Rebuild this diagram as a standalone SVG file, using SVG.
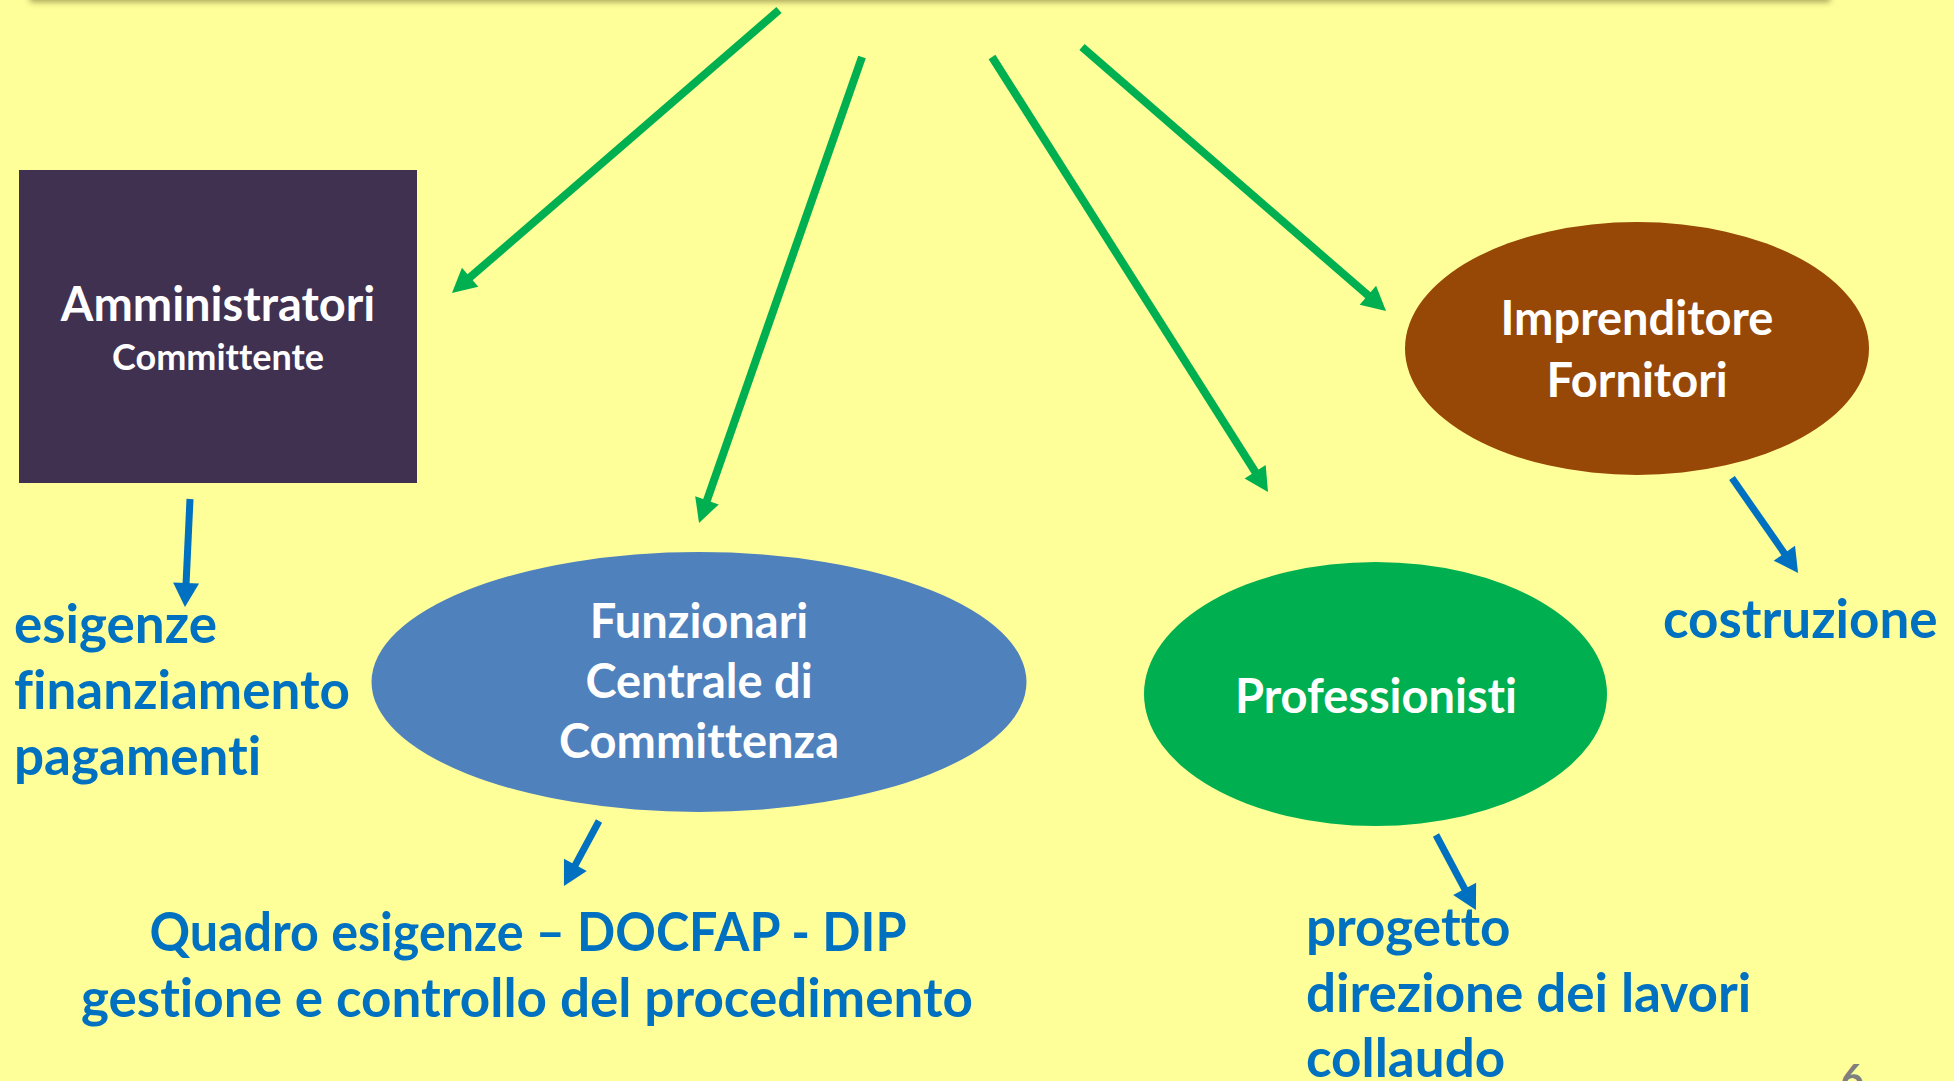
<svg xmlns="http://www.w3.org/2000/svg" width="1954" height="1081" viewBox="0 0 1954 1081">
<style>
text{font-variant-ligatures:none;font-feature-settings:"liga" 0,"clig" 0}
.node{font-family:Lato,"Open Sans","Liberation Sans",sans-serif;font-weight:bold;fill:#FFFFFF;text-anchor:middle}
.lbl{font-family:Lato,"Open Sans","Liberation Sans",sans-serif;font-weight:bold;fill:#0070C0;font-size:53px}
.g{stroke:#00B050;stroke-width:8;fill:none}
.b{stroke:#0070C0;stroke-width:7;fill:none}
</style>
<defs>
<filter id="sh" x="-5%" y="-100%" width="110%" height="300%"><feGaussianBlur stdDeviation="3"/></filter>
<marker id="ag" markerUnits="userSpaceOnUse" markerWidth="26" markerHeight="26" refX="2" refY="12.5" orient="auto" overflow="visible"><path d="M0,0 L24,12.5 L0,25 z" fill="#00B050"/></marker>
<marker id="ab" markerUnits="userSpaceOnUse" markerWidth="26" markerHeight="26" refX="2" refY="13" orient="auto" overflow="visible"><path d="M0,0 L24,13 L0,26 z" fill="#0070C0"/></marker>
</defs>
<rect x="0" y="0" width="1954" height="1081" fill="#FFFF99"/>
<rect x="30" y="-30" width="1800" height="32" fill="#5a5520" opacity="0.55" filter="url(#sh)"/>
<g id="connectors">
<line class="g" x1="779" y1="10" x2="468.6" y2="278.6" marker-end="url(#ag)"/>
<line class="g" x1="862" y1="57" x2="706.3" y2="502.2" marker-end="url(#ag)"/>
<line class="g" x1="992" y1="57" x2="1256.2" y2="473.4" marker-end="url(#ag)"/>
<line class="g" x1="1082" y1="47" x2="1369.4" y2="296.6" marker-end="url(#ag)"/>
<line class="b" x1="190" y1="499" x2="186" y2="585" marker-end="url(#ab)"/>
<line class="b" x1="599" y1="821" x2="574.4" y2="866.6" marker-end="url(#ab)"/>
<line class="b" x1="1436" y1="835" x2="1465.6" y2="890.6" marker-end="url(#ab)"/>
<line class="b" x1="1732" y1="478" x2="1785.5" y2="554.9" marker-end="url(#ab)"/>
</g>
<g id="amministratori">
<rect x="19" y="170" width="398" height="313" fill="#403151"/>
<text class="node" x="218" y="321" font-size="47">Amministratori</text>
<text class="node" x="218" y="370" font-size="36">Committente</text>
</g>
<g id="funzionari">
<ellipse cx="699" cy="682" rx="327.5" ry="130" fill="#4F81BD"/>
<text class="node" x="699" y="638" font-size="47">Funzionari</text>
<text class="node" x="699" y="698" font-size="47">Centrale di</text>
<text class="node" x="699" y="758" font-size="47">Committenza</text>
</g>
<g id="professionisti">
<ellipse cx="1375.5" cy="694" rx="231.5" ry="132" fill="#00B050"/>
<text class="node" x="1376" y="713" font-size="47">Professionisti</text>
</g>
<g id="imprenditore">
<ellipse cx="1637" cy="348.5" rx="232" ry="126.5" fill="#974706"/>
<text class="node" x="1637" y="335" font-size="47">Imprenditore</text>
<text class="node" x="1637" y="397" font-size="47">Fornitori</text>
</g>
<g id="labels">
<text class="lbl" x="14" y="643">esigenze</text>
<text class="lbl" x="14" y="709">finanziamento</text>
<text class="lbl" x="14" y="775">pagamenti</text>
<text class="lbl" x="1663" y="638">costruzione</text>
<text class="lbl" x="528" y="951" text-anchor="middle" textLength="757" lengthAdjust="spacingAndGlyphs">Quadro esigenze – DOCFAP - DIP</text>
<text class="lbl" x="527" y="1017" text-anchor="middle">gestione e controllo del procedimento</text>
<text class="lbl" x="1306" y="946">progetto</text>
<text class="lbl" x="1306" y="1012">direzione dei lavori</text>
<text class="lbl" x="1306" y="1077">collaudo</text>
<text x="1852" y="1093" text-anchor="middle" font-family="Lato,'Liberation Sans',sans-serif" font-weight="bold" font-size="40" fill="#7F7F7F">6</text>
</g>
</svg>
